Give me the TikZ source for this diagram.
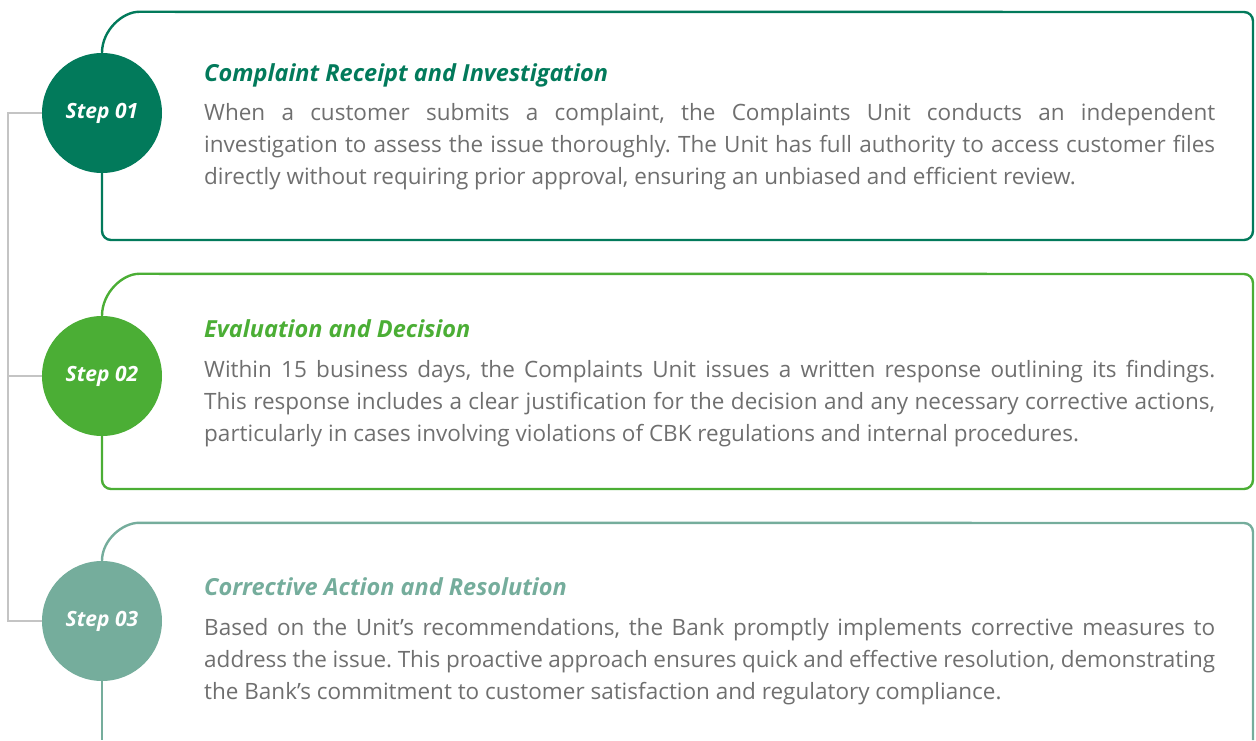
\documentclass[tikz,border=0pt]{standalone}
\usepackage{fontspec}
\setmainfont{Open Sans}
\hyphenpenalty=10000
\emergencystretch=3em
\frenchspacing

\definecolor{stepone}{HTML}{027A5B}
\definecolor{steptwo}{HTML}{4BAE35}
\definecolor{stepthree}{HTML}{75AD9C}
\definecolor{bodygray}{HTML}{6F6F6F}
\definecolor{railgray}{HTML}{C4C4C4}

\tikzset{
  stepdot/.style={circle, fill=#1, minimum size=120pt, inner sep=0pt, text=white,
    font=\fontsize{21}{24}\selectfont\bfseries\itshape},
  boxline/.style={draw=#1, line width=2.4pt, rounded corners=9pt},
  steptitle/.style={anchor=base west, inner sep=0pt, text=#1,
    font=\fontsize{23.5}{28}\selectfont\bfseries\itshape},
  steptext/.style={anchor=north west, inner sep=0pt, text width=1011pt, align=justify,
    text=bodygray, font=\fontsize{22.5}{32}\selectfont},
  rail/.style={draw=railgray, line width=1.3pt}
}

\begin{document}
\begin{tikzpicture}[x=1pt, y=1pt]
    \useasboundingbox (0,0) rectangle (1256,740);

    %% Step 01
    \node[stepdot=stepone] (s1) at (102,627) {Step 01};
    \draw[boxline=stepone] (s1.north) arc[start angle=180, end angle=90, x radius=46, y radius=41]
        -- (1253,728) -- (1253,500) -- (102,500) -- (s1.south);
    \node[steptitle=stepone] (t1) at (204,658) {Complaint Receipt and Investigation};
    \node[steptext] (b1) at (204,637) {When a customer submits a complaint, the Complaints Unit conducts an independent\linebreak investigation to assess the issue thoroughly. The Unit has full authority to access customer files\linebreak directly without requiring prior approval, ensuring an unbiased and efficient review.};

    %% Step 02
    \node[stepdot=steptwo] (s2) at (102,364) {Step 02};
    \draw[boxline=steptwo] (s2.north) arc[start angle=180, end angle=90, x radius=46, y radius=42]
        -- (1253,466) -- (1253,251) -- (102,251) -- (s2.south);
    \node[steptitle=steptwo] (t2) at (204,402) {Evaluation and Decision};
    \node[steptext] (b2) at (204,380) {Within 15 business days, the Complaints Unit issues a written response outlining its findings.\linebreak This response includes a clear justification for the decision and any necessary corrective actions,\linebreak particularly in cases involving violations of CBK regulations and internal procedures.};

    %% Step 03
    \node[stepdot=stepthree] (s3) at (102,119) {Step 03};
    \draw[boxline=stepthree] (s3.north) arc[start angle=180, end angle=90, x radius=46, y radius=38]
        -- (1253,217) -- (1253,0);
    \draw[boxline=stepthree] (s3.south) -- (102,0);
    \node[steptitle=stepthree] (t3) at (204,145) {Corrective Action and Resolution};
    \node[steptext] (b3) at (204,122) {Based on the Unit’s recommendations, the Bank promptly implements corrective measures to\linebreak address the issue. This proactive approach ensures quick and effective resolution, demonstrating\linebreak the Bank’s commitment to customer satisfaction and regulatory compliance.};

    % Rail joining the steps
    \coordinate (rail) at (8,0);
    \draw[rail] (s1.west) -- (s1.west -| rail) -- (s3.west -| rail) -- (s3.west);
    \draw[rail] (s2.west) -- (s2.west -| rail);

\end{tikzpicture}
\end{document}
